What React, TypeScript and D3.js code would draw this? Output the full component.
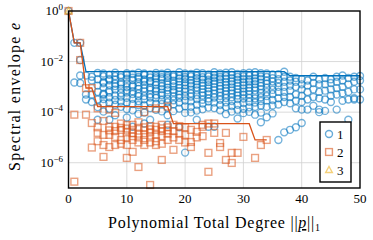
import * as d3 from "d3";
import React from "react";

// log10 of the spectral envelope, one list per polynomial total degree (index = degree)
const blueLog: number[][] = [
  [0],
  [-1.26, -2.83],
  [-1.26, -1.94, -2.55, -2.85],
  [-2.55, -3.3, -3.5],
  [-2.6, -2.75, -3.3, -3.6],
  [-2.45, -2.7, -2.95, -3.2, -3.5, -3.8, -4.3],
  [-2.47, -2.58, -2.81, -2.86, -3.02, -3.27, -3.31, -3.48, -3.66, -3.98],
  [-2.52, -2.69, -2.74, -2.93, -3.14, -3.22, -3.41, -3.63, -3.87, -4.3],
  [-2.44, -2.57, -2.72, -2.88, -2.97, -3.11, -3.34, -3.52, -3.71, -4.12],
  [-2.53, -2.62, -2.83, -2.91, -3.07, -3.24, -3.38, -3.58, -3.79],
  [-2.46, -2.53, -2.68, -2.87, -3.01, -3.13, -3.22, -3.43, -3.62, -3.88, -4.21],
  [-2.49, -2.64, -2.73, -2.94, -2.99, -3.17, -3.28, -3.47, -3.68, -3.93, -4.58],
  [-2.44, -2.61, -2.68, -2.82, -2.97, -3.08, -3.26, -3.37, -3.57, -3.72, -4.07],
  [-2.47, -2.52, -2.71, -2.79, -2.92, -3.06, -3.18, -3.36, -3.49, -3.73, -4.02, -4.45],
  [-2.51, -2.63, -2.77, -2.83, -3.03, -3.12, -3.29, -3.42, -3.63, -3.84, -4.3],
  [-2.45, -2.58, -2.66, -2.82, -2.93, -3.07, -3.16, -3.32, -3.44, -3.67, -3.91],
  [-2.48, -2.62, -2.69, -2.86, -2.98, -3.09, -3.23, -3.33, -3.52, -3.68, -3.97],
  [-2.44, -2.57, -2.64, -2.78, -2.91, -3.03, -3.13, -3.28, -3.47, -3.61, -3.82, -4.12, -4.5],
  [-2.52, -2.59, -2.76, -2.87, -2.98, -3.12, -3.21, -3.37, -3.53, -3.69, -3.96],
  [-2.42, -2.56, -2.67, -2.79, -2.92, -3.04, -3.17, -3.31, -3.43, -3.62, -3.86, -4.6],
  [-2.47, -2.61, -2.69, -2.82, -2.94, -3.07, -3.19, -3.36, -3.54, -3.77, -4.03, -5.6],
  [-2.49, -2.58, -2.74, -2.87, -2.96, -3.11, -3.26, -3.38, -3.57, -3.79, -4.01],
  [-2.44, -2.56, -2.66, -2.78, -2.91, -3.02, -3.14, -3.32, -3.48, -3.71, -3.94, -4.3],
  [-2.46, -2.62, -2.71, -2.84, -2.96, -3.09, -3.22, -3.34, -3.51, -3.66, -3.89],
  [-2.51, -2.59, -2.72, -2.81, -2.93, -3.06, -3.18, -3.29, -3.46, -3.58, -3.82, -4.58],
  [-2.42, -2.54, -2.64, -2.77, -2.88, -3.01, -3.13, -3.27, -3.42, -3.62, -3.84, -4.58],
  [-2.47, -2.61, -2.69, -2.83, -2.97, -3.08, -3.21, -3.36, -3.51, -3.72, -3.93],
  [-2.44, -2.57, -2.68, -2.81, -2.92, -3.04, -3.16, -3.29, -3.44, -3.61, -3.79, -4.08],
  [-2.42, -2.53, -2.66, -2.79, -2.89, -3.02, -3.14, -3.26, -3.41, -3.56, -3.76, -3.98],
  [-2.49, -2.61, -2.72, -2.84, -2.96, -3.09, -3.22, -3.34, -3.48, -3.71, -3.91, -4.25],
  [-2.46, -2.58, -2.69, -2.82, -2.94, -3.06, -3.19, -3.31, -3.46, -3.64, -3.87, -4.04],
  [-2.44, -2.56, -2.71, -2.79, -2.91, -3.04, -3.16, -3.29, -3.44, -3.59, -3.81, -3.99],
  [-2.42, -2.54, -2.67, -2.78, -2.89, -3.02, -3.14, -3.31, -3.46, -3.62, -3.79, -4.1],
  [-2.46, -2.59, -2.69, -2.84, -2.97, -3.09, -3.24, -3.41, -3.56, -3.74, -4.02, -4.4],
  [-2.47, -2.61, -2.76, -2.88, -3.04, -3.21, -3.36, -3.54, -3.79, -4.2],
  [-2.51, -2.66, -2.79, -2.96, -3.12, -3.28, -3.52, -3.74, -4.05],
  [-2.5, -2.7, -2.85, -3.0, -3.2, -3.45, -3.7, -5.1],
  [-2.4, -2.6, -2.8, -3.0, -3.2, -3.4, -3.6, -4.8],
  [-2.6, -2.75, -2.95, -3.15, -3.4, -3.65, -4.7],
  [-2.65, -2.8, -3.0, -3.3, -3.55, -3.85, -4.6],
  [-2.7, -2.9, -3.1, -3.35, -3.6, -3.9, -4.43],
  [-2.75, -2.95, -3.2, -3.5, -3.9],
  [-2.6, -2.85, -3.1, -3.4, -3.75],
  [-2.7, -2.9, -3.2, -3.45, -3.9, -4.0],
  [-2.65, -2.9, -3.15, -3.5, -3.95],
  [-2.7, -2.85, -3.1, -3.35, -3.6],
  [-2.6, -2.8, -3.05, -3.3, -3.9],
  [-2.55, -2.75, -3.0, -3.25, -3.55],
  [-2.65, -2.9, -3.2, -3.5, -4.3],
  [-2.6, -2.8, -3.1, -3.45, -3.5],
  [-2.57, -2.75, -3.1, -3.5],
];

const orangeLog: number[][] = [
  [0],
  [-4.1, -6.75],
  [-1.26, -1.94],
  [-3.05, -4.1],
  [-3.05, -4.43, -5.4],
  [-3.85, -4.6, -4.82, -5.15],
  [-4.35, -4.9, -5.3, -5.77],
  [-3.9, -4.58, -4.72, -4.9, -5.38],
  [-4.03, -4.58, -4.75, -4.98, -5.3],
  [-4.45, -4.62, -4.7, -5.1, -5.25],
  [-4.51, -4.65, -4.8, -5.0, -5.3, -5.81],
  [-4.5, -4.7, -4.83, -4.95, -5.1, -5.57],
  [-4.4, -4.62, -4.85, -5.0, -5.2, -6.17],
  [-4.0, -4.6, -4.72, -4.9, -5.1, -5.3],
  [-4.55, -4.68, -4.8, -5.0, -5.2, -6.88],
  [-3.85, -4.58, -4.7, -4.9, -5.15, -5.3],
  [-4.5, -4.64, -4.75, -4.95, -5.25, -5.89],
  [-3.78, -4.6, -4.72, -4.85, -5.1],
  [-4.5, -4.75, -5.0, -5.49],
  [-4.55, -4.85, -5.1],
  [-4.6, -4.9, -5.2],
  [-4.7, -5.18, -5.38],
  [-4.78, -5.0],
  [-4.5, -4.58, -4.95],
  [-4.45, -5.61, -6.36],
  [-4.45, -4.82],
  [-5.22, -5.38],
  [-4.82, -5.89],
  [-5.61, -6.01],
  [-5.61],
  [-4.98],
  [],
  [-5.81],
  [-5.3],
  [-5.1],
];

const yellowLog: number[][] = [[0]];

// envelope lines (degree, value)
const blueEnvDeg = [0, 1, 2, 3, 37, 38, 50];
const blueEnvVal = [1, 0.055, 0.055, 4e-3, 4e-3, 2.75e-3, 2.75e-3];
const orangeEnvDeg = [0, 1, 2, 3, 4, 5, 17, 18, 31, 32, 34];
const orangeEnvVal = [1, 0.055, 0.055, 9e-4, 9e-4, 1.65e-4, 1.65e-4, 3.5e-5, 3.5e-5, 8e-6, 8e-6];

const xTicks = [0, 10, 20, 30, 40, 50];
const yTicks = [0, -2, -4, -6];
const legendLabels = ["1", "2", "3"];

const BLUE = "#0072BD";
const ORANGE = "#D95319";
const YELLOW = "#EDB120";
const FONT = "Liberation Serif, DejaVu Serif, Times New Roman, serif";

const toPoints = (logs: number[][]) =>
  logs.flatMap((vals, d) => vals.map((e) => ({ d, v: Math.pow(10, e) })));

const App = () => {
  const width = 373;
  const height = 240;
  const left = 68.5;
  const right = 360;
  const top = 11;
  const bottom = 188;

  const x = d3.scaleLinear().domain([0, 50]).range([left, right]);
  const y = d3.scaleLog().domain([1e-7, 1]).range([bottom, top]);

  const line = d3
    .line<[number, number]>()
    .x((p) => x(p[0]))
    .y((p) => y(p[1]));

  const blue = toPoints(blueLog);
  const orange = toPoints(orangeLog);
  const yellow = toPoints(yellowLog);

  const r = 3.5;
  const sq = 3.4;
  const tri = (cx: number, cy: number, s: number) =>
    `M${cx},${cy - s}L${cx + s * 0.95},${cy + s * 0.7}L${cx - s * 0.95},${cy + s * 0.7}Z`;
  const ts = { fontFamily: FONT };

  return (
    <svg
      width={width}
      height={height}
      style={{ position: "absolute", left: 0, top: 0, background: "white" }}
    >
      <rect x={0} y={0} width={width} height={height} fill="white" />
      {/* grid */}
      <g stroke="#d0d0d0" strokeWidth={0.8}>
        {xTicks.slice(1, -1).map((t) => (
          <line key={t} x1={x(t)} x2={x(t)} y1={top} y2={bottom} />
        ))}
        {yTicks.slice(1).map((t) => (
          <line key={t} x1={left} x2={right} y1={y(Math.pow(10, t))} y2={y(Math.pow(10, t))} />
        ))}
      </g>

      {/* markers */}
      <g fill="none" stroke={BLUE} strokeWidth={1.4} strokeOpacity={0.55}>
        {blue.map((p, i) => (
          <circle key={i} cx={x(p.d)} cy={y(p.v)} r={r} />
        ))}
      </g>
      <g fill="none" stroke={ORANGE} strokeWidth={1.4} strokeOpacity={0.55}>
        {orange.map((p, i) => (
          <rect key={i} x={x(p.d) - sq} y={y(p.v) - sq} width={sq * 2} height={sq * 2} />
        ))}
      </g>
      <g fill="none" stroke={YELLOW} strokeWidth={1.4} strokeOpacity={0.6}>
        {yellow.map((p, i) => (
          <path key={i} d={tri(x(p.d), y(p.v), 3.5)} />
        ))}
      </g>

      {/* envelopes */}
      <path
        d={line(blueEnvDeg.map((d, i) => [d, blueEnvVal[i]] as [number, number])) ?? ""}
        fill="none"
        stroke={BLUE}
        strokeWidth={1.3}
      />
      <path
        d={line(orangeEnvDeg.map((d, i) => [d, orangeEnvVal[i]] as [number, number])) ?? ""}
        fill="none"
        stroke={ORANGE}
        strokeWidth={1.3}
      />

      {/* frame */}
      <rect x={left} y={top} width={right - left} height={bottom - top} fill="none" stroke="black" strokeWidth={1.4} />

      {/* x tick labels */}
      {xTicks.map((t) => (
        <text key={t} x={x(t)} y={203} fontSize={13} textAnchor="middle" style={ts}>
          {t}
        </text>
      ))}
      {/* y tick labels */}
      {yTicks.map((t) => (
        <text key={t} x={63} y={y(Math.pow(10, t)) + 4} fontSize={13} textAnchor="end" style={ts}>
          10
          <tspan dy={-5} fontSize={9}>
            {t === 0 ? "0" : "\u2212" + -t}
          </tspan>
        </text>
      ))}

      {/* axis titles */}
      <text
        x={214}
        y={228}
        fontSize={16}
        textAnchor="middle"
        textLength={212}
        lengthAdjust="spacing"
        style={ts}
      >
        Polynomial Total Degree ||
        <tspan fontStyle="italic" textDecoration="underline">p</tspan>
        ||
        <tspan dy={3} fontSize={10}>1</tspan>
      </text>
      <text
        transform="translate(20,97) rotate(-90)"
        fontSize={16}
        textAnchor="middle"
        textLength={148}
        lengthAdjust="spacing"
        style={ts}
      >
        Spectral envelope <tspan fontStyle="italic">e</tspan>
      </text>

      {/* legend */}
      <rect x={320} y={122} width={31} height={60} fill="white" stroke="black" strokeWidth={1.4} />
      {legendLabels.map((l, i) => {
        const cy = 134 + i * 18;
        const cx = 329;
        return (
          <g key={l}>
            {i === 0 && <circle cx={cx} cy={cy} r={r} fill="none" stroke={BLUE} strokeWidth={1.4} strokeOpacity={0.6} />}
            {i === 1 && (
              <rect x={cx - sq} y={cy - sq} width={sq * 2} height={sq * 2} fill="none" stroke={ORANGE} strokeWidth={1.4} strokeOpacity={0.6} />
            )}
            {i === 2 && <path d={tri(cx, cy, 3.5)} fill="none" stroke={YELLOW} strokeWidth={1.4} strokeOpacity={0.6} />}
            <text x={337} y={cy + 4.5} fontSize={13} style={ts}>
              {l}
            </text>
          </g>
        );
      })}
    </svg>
  );
};

export default App;
